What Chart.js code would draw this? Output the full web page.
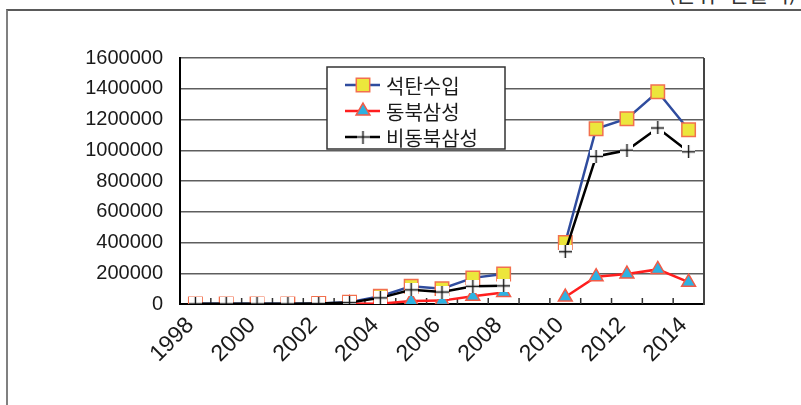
<!DOCTYPE html>
<html lang="ko">
<head>
<meta charset="utf-8">
<title>석탄수입</title>
<script src="https://cdn.jsdelivr.net/npm/chart.js@4.4.1/dist/chart.umd.min.js"></script>
<style>
  html, body { margin: 0; padding: 0; background: #fff; }
  #wrap { position: relative; width: 801px; height: 405px; overflow: hidden; }
  #frame { position: absolute; left: 6px; top: 9px; right: 0; bottom: 0; border-left: 2px solid #808080; border-top: 2px solid #5a5a5a; }
  #unit { position: absolute; left: 668px; top: -19px; font: 22px/22px "Noto Sans CJK KR", sans-serif; color: #333; white-space: nowrap; }
  #chart { position: absolute; left: 0; top: 0; }
</style>
</head>
<body>
<div id="wrap">
  <div id="frame"></div>
  <div id="unit">(단위: 천달러)</div>
  <canvas id="chart" width="801" height="405"></canvas>
</div>
<script>
const years = ['1998', '1999', '2000', '2001', '2002', '2003', '2004', '2005', '2006',
  '2007', '2008', '2009', '2010', '2011', '2012', '2013', '2014']
const coalImports = [1000, 1000, 1000, 1000, 4000, 12000, 50000, 115000, 100000,
  170000, 195000, null, 400000, 1140000, 1205000, 1380000, 1133000]
const northeast = [null, null, null, null, null, 3000, 2000, 20000, 22000,
  50000, 75000, null, 45000, 178000, 195000, 225000, 142000]
const nonNortheast = [1000, 1000, 1000, 1000, 3000, 9000, 40000, 92000, 78000,
  115000, 118000, null, 340000, 960000, 1000000, 1145000, 990000]
const seriesNames = ['석탄수입', '동북삼성', '비동북삼성']
const yMax = 1600000
const yStep = 200000

// plus marker with a white box behind it, like the spreadsheet one
function plusMarker(size) {
  const c = document.createElement('canvas')
  c.width = size
  c.height = size
  const g = c.getContext('2d')
  g.fillStyle = '#fff'
  g.fillRect(0, 0, size, size)
  g.strokeStyle = '#111'
  g.lineWidth = 1.4
  g.beginPath()
  g.moveTo(0, size / 2)
  g.lineTo(size, size / 2)
  g.moveTo(size / 2, 0)
  g.lineTo(size / 2, size)
  g.stroke()
  return c
}
const plus = plusMarker(13)

const axisExtras = {
  id: 'axisExtras',
  beforeDatasetsDraw(chart) {
    const { ctx, chartArea: a, scales: { x } } = chart
    const step = x.getPixelForValue(1) - x.getPixelForValue(0)
    const start = x.getPixelForValue(0) - step / 2
    ctx.save()
    ctx.strokeStyle = '#333'
    ctx.lineWidth = 1.5
    ctx.beginPath()
    for (let i = 1; i < years.length; i++) {
      const px = start + i * step
      ctx.moveTo(px, a.bottom)
      ctx.lineTo(px, a.bottom - 6)
    }
    ctx.stroke()
    ctx.strokeStyle = '#444'
    ctx.lineWidth = 2
    ctx.beginPath()
    ctx.moveTo(a.right, a.top)
    ctx.lineTo(a.right, a.bottom + 1)
    ctx.stroke()
    ctx.restore()
  }
}

function drawMarker(ctx, ds, cx, cy) {
  ctx.save()
  ctx.fillStyle = ds.pointBackgroundColor
  ctx.strokeStyle = ds.pointBorderColor
  ctx.lineWidth = ds.pointBorderWidth
  const r = ds.pointRadius
  if (ds.pointStyle === 'rect') {
    const s = Math.SQRT1_2 * r
    ctx.beginPath()
    ctx.rect(cx - s, cy - s, 2 * s, 2 * s)
    ctx.fill()
    ctx.stroke()
  } else if (ds.pointStyle === 'triangle') {
    ctx.beginPath()
    ctx.moveTo(cx, cy - r)
    ctx.lineTo(cx + r * Math.sin(2 * Math.PI / 3), cy + r / 2)
    ctx.lineTo(cx - r * Math.sin(2 * Math.PI / 3), cy + r / 2)
    ctx.closePath()
    ctx.fill()
    ctx.stroke()
  } else {
    ctx.drawImage(ds.pointStyle, cx - ds.pointStyle.width / 2, cy - ds.pointStyle.height / 2)
  }
  ctx.restore()
}

const boxLegend = {
  id: 'boxLegend',
  afterDraw(chart) {
    const { ctx, chartArea: a } = chart
    const left = a.left + 147
    const top = a.top + 9
    const w = 178
    const h = 82
    ctx.save()
    ctx.fillStyle = '#fff'
    ctx.fillRect(left, top, w, h)
    ctx.strokeStyle = '#333'
    ctx.lineWidth = 1.5
    ctx.strokeRect(left, top, w, h)
    ctx.font = '20px "Noto Sans CJK KR", sans-serif'
    ctx.textBaseline = 'middle'
    chart.data.datasets.forEach((ds, i) => {
      const cy = top + 18 + i * 26
      ctx.strokeStyle = ds.borderColor
      ctx.lineWidth = ds.borderWidth
      ctx.beginPath()
      ctx.moveTo(left + 18, cy)
      ctx.lineTo(left + 53, cy)
      ctx.stroke()
      drawMarker(ctx, ds, left + 36, cy)
      ctx.fillStyle = '#1a1a1a'
      ctx.fillText(ds.label, left + 59, cy + 1)
    })
    ctx.restore()
  }
}

new Chart(document.getElementById('chart'), {
  type: 'line',
  data: {
    labels: years,
    datasets: [
      {
        label: seriesNames[0],
        data: coalImports,
        order: 2,
        borderColor: '#2f4c9e',
        borderWidth: 2.5,
        pointStyle: 'rect',
        pointRadius: 9.5,
        pointBackgroundColor: '#ece63c',
        pointBorderColor: '#f2704e',
        pointBorderWidth: 1.5
      },
      {
        label: seriesNames[1],
        data: northeast,
        order: 1,
        borderColor: '#ff1e1e',
        borderWidth: 2.5,
        pointStyle: 'triangle',
        pointRadius: 8,
        pointBackgroundColor: '#2db2e2',
        pointBorderColor: '#f25a46',
        pointBorderWidth: 1.5
      },
      {
        label: seriesNames[2],
        data: nonNortheast,
        order: 0,
        borderColor: '#000',
        borderWidth: 2.5,
        pointStyle: plus,
        pointRadius: 7,
        pointBackgroundColor: '#fff',
        pointBorderColor: '#111',
        pointBorderWidth: 1.4
      }
    ]
  },
  options: {
    responsive: false,
    animation: false,
    events: [],
    layout: { padding: { left: 0, right: 97, top: 58, bottom: 0 } },
    plugins: { legend: { display: false }, tooltip: { enabled: false } },
    scales: {
      x: {
        offset: true,
        grid: { display: true, offset: true, drawOnChartArea: false, drawTicks: false },
        border: { color: '#000', width: 2 },
        ticks: {
          autoSkip: false,
          maxRotation: 45,
          minRotation: 45,
          padding: 8,
          labelOffset: -5,
          color: '#1a1a1a',
          font: { family: '"Liberation Sans", Arial, sans-serif', size: 23 },
          callback: (v, i) => (i % 2 === 0 ? years[i] : '')
        },
        afterFit: (s) => { s.height = 101 }
      },
      y: {
        min: 0,
        max: yMax,
        grid: { color: '#5e5e5e', lineWidth: 1.5, drawTicks: false },
        border: { color: '#000', width: 2 },
        ticks: {
          stepSize: yStep,
          padding: 17,
          color: '#1a1a1a',
          font: { family: '"Liberation Sans", Arial, sans-serif', size: 20 },
          callback: (v) => String(v)
        },
        afterFit: (s) => { s.width = 180 }
      }
    }
  },
  plugins: [axisExtras, boxLegend]
})
</script>
</body>
</html>
